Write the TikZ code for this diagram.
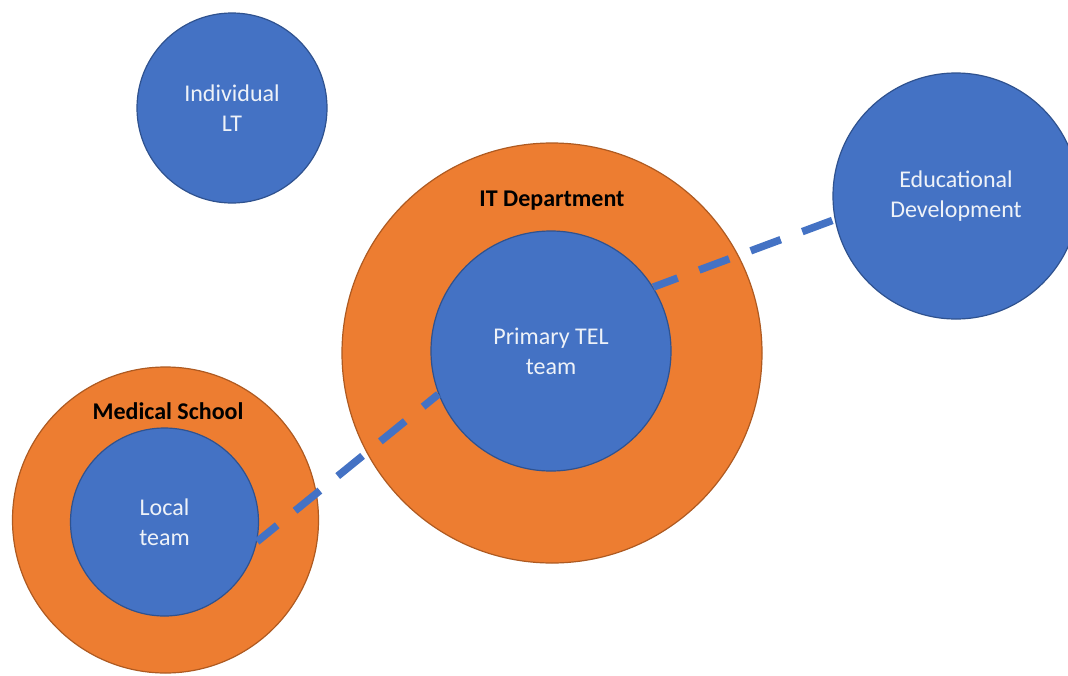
\documentclass[tikz,border=0pt]{standalone}
\usepackage{fontspec}
\setmainfont{Carlito}
\definecolor{ofill}{HTML}{ED7D31}
\definecolor{oline}{HTML}{AE5A21}
\definecolor{bfill}{HTML}{4472C4}
\definecolor{bline}{HTML}{2F528F}
\definecolor{btext}{HTML}{EEF2F8}
\tikzset{
  orangecirc/.style={circle,draw=oline,fill=ofill,line width=1.2pt,inner sep=0pt},
  bluecirc/.style={circle,draw=bline,fill=bfill,line width=1.2pt,inner sep=0pt,
    text=btext,align=center,font=\fontsize{24}{30}\selectfont},
  grouplabel/.style={font=\fontsize{24}{28}\selectfont\bfseries,text=black},
  link/.style={draw=bfill,line width=7.5pt,dash pattern=on 32pt off 23pt,dash phase=6pt}
}
\begin{document}
\begin{tikzpicture}[x=1pt,y=-1pt]
\useasboundingbox (0,0) rectangle (1068,675);
\clip (0,0) rectangle (1068,675);
\fill[white] (0,0) rectangle (1068,675);
% outer groups
\node[orangecirc,minimum size=306pt] (med) at (165.5,520) {};
\node[orangecirc,minimum size=420pt] (itd) at (552,353) {};
% blue circles
\node[bluecirc,minimum size=188pt] (local) at (164.5,522) {Local\\team};
\node[bluecirc,minimum size=240pt] (primary) at (551,351) {Primary TEL\\team};
\node[bluecirc,minimum size=190pt] (indiv) at (232,108) {Individual\\LT};
\node[bluecirc,minimum size=246pt] (edu) at (956,196) {Educational\\Development};
% group labels
\node[grouplabel] (medlabel) at (168,411) {Medical School};
\node[grouplabel] (itlabel) at (552,201) {IT Department};
% connectors
\draw[link] (local.-12.5) -- (primary.201);
\draw[link] (primary.32) -- (edu.191);
\end{tikzpicture}
\end{document}
